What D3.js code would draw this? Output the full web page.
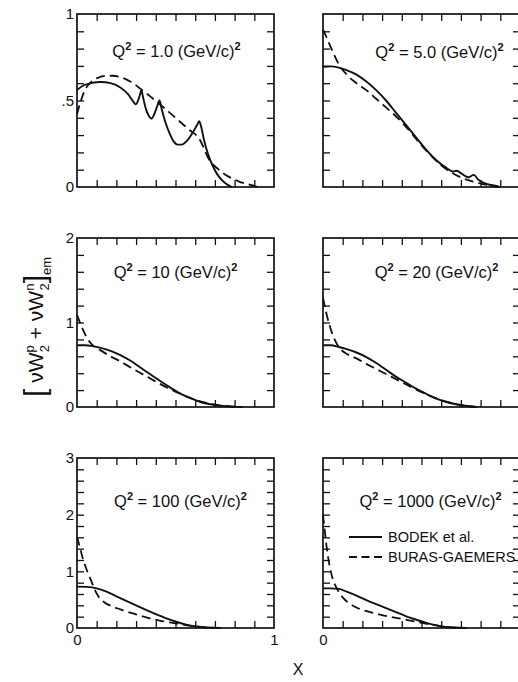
<!DOCTYPE html>
<html>
<head>
<meta charset="utf-8">
<script src="https://cdn.jsdelivr.net/npm/d3@7"></script>
<style>
  body { margin: 0; background: #fff; }
  svg { display: block; font-family: "Liberation Sans", Arial, sans-serif; }
</style>
</head>
<body>
<div id="container"></div>
<script>
"use strict";

// panel settings
const q2Values = ["1.0", "5.0", "10", "20", "100", "1000"];
const yMaxes = [1, 1, 2, 2, 3, 3];
const yTickSteps = [0.1, 0.1, 0.2, 0.2, 0.2, 0.2];
const yTickLabels = [[0, 0.5, 1], [], [0, 1, 2], [], [0, 1, 2, 3], []];
const xTickLabels = [[0, 1], [0]]; // right panel's "1" falls outside the picture
const legendLabels = ["BODEK et al.", "BURAS-GAEMERS"];

// BODEK et al. (solid), [x, value]
const bodekQ1 = [[0, .56], [.03, .585], [.07, .60], [.12, .607], [.17, .60], [.22, .575], [.26, .535],
  [.285, .495], [.298, .478], [.31, .50], [.32, .535], [.327, .56], [.335, .52], [.35, .45], [.365, .41],
  [.377, .395], [.39, .415], [.405, .46], [.419, .50], [.43, .45], [.45, .37], [.47, .31], [.49, .265],
  [.51, .245], [.53, .245], [.56, .27], [.59, .32], [.61, .36], [.62, .38], [.63, .35], [.645, .27],
  [.665, .19], [.69, .12], [.72, .06], [.75, .025], [.786, 0]];
const bodekQ5 = [[0, .695], [.04, .697], [.08, .69], [.12, .675], [.17, .65], [.22, .61], [.27, .56],
  [.32, .50], [.37, .43], [.42, .36], [.47, .29], [.52, .22], [.57, .16], [.62, .115], [.66, .09],
  [.68, .094], [.70, .08], [.74, .056], [.765, .07], [.79, .04], [.83, .018], [.88, .006], [.89, .004]];
const bodekQ10 = [[0, .73], [.04, .73], [.08, .72], [.12, .70], [.17, .665], [.22, .615], [.27, .55],
  [.32, .47], [.37, .39], [.42, .31], [.47, .235], [.52, .165], [.57, .11], [.62, .065], [.67, .035],
  [.72, .018], [.77, .008], [.84, 0]];
const bodekQ20 = [[0, .73], [.04, .73], [.08, .71], [.12, .685], [.17, .645], [.22, .59], [.27, .52],
  [.32, .44], [.37, .36], [.42, .29], [.47, .22], [.52, .16], [.57, .105], [.62, .065], [.67, .035],
  [.72, .015], [.78, 0]];
const bodekQ100 = [[0, .73], [.05, .725], [.10, .70], [.15, .64], [.20, .56], [.25, .48], [.30, .40],
  [.35, .32], [.40, .245], [.45, .175], [.50, .115], [.55, .065], [.60, .03], [.65, .012], [.73, 0]];
const bodekQ1000 = [[0, .70], [.04, .70], [.08, .69], [.12, .64], [.17, .57], [.22, .49], [.27, .42],
  [.32, .35], [.37, .28], [.42, .21], [.47, .15], [.52, .095], [.57, .05], [.62, .02], [.67, .008], [.73, 0]];

// BURAS-GAEMERS (dashed), [x, value]
const burasQ1 = [[0, .42], [.02, .50], [.04, .56], [.07, .605], [.10, .628], [.14, .642], [.18, .643],
  [.22, .635], [.27, .61], [.32, .57], [.37, .525], [.42, .478], [.47, .43], [.52, .38], [.57, .33],
  [.62, .28], [.67, .16], [.72, .10], [.77, .06], [.82, .033], [.87, .015], [.92, 0]];
const burasQ5 = [[0, .91], [.02, .86], [.05, .78], [.08, .71], [.12, .65], [.17, .60], [.22, .56],
  [.27, .51], [.30, .48], [.35, .43], [.40, .375], [.45, .31], [.50, .24], [.55, .18], [.60, .125],
  [.65, .085], [.70, .055], [.75, .035], [.80, .02], [.85, .008], [.90, 0]];
const burasQ10 = [[0, 1.09], [.02, .97], [.05, .82], [.08, .73], [.12, .67], [.17, .60], [.22, .54],
  [.27, .47], [.32, .405], [.37, .34], [.42, .275], [.47, .215], [.52, .16], [.57, .11], [.62, .07],
  [.67, .04], [.72, .02], [.78, .008], [.84, 0]];
const burasQ20 = [[0, 1.29], [.02, 1.08], [.05, .85], [.08, .71], [.12, .63], [.17, .575], [.22, .51],
  [.27, .45], [.32, .39], [.37, .33], [.42, .27], [.47, .21], [.52, .155], [.57, .105], [.62, .065],
  [.67, .035], [.72, .015], [.78, 0]];
const burasQ100 = [[0, 1.61], [.015, 1.42], [.03, 1.22], [.05, 1.02], [.07, .85], [.09, .68], [.11, .55],
  [.14, .45], [.18, .38], [.22, .33], [.27, .27], [.32, .22], [.37, .17], [.42, .13], [.47, .10],
  [.52, .07], [.57, .04], [.62, .02], [.70, 0]];
const burasQ1000 = [[0, 2.0], [.008, 1.75], [.016, 1.5], [.025, 1.27], [.035, 1.07], [.05, .86],
  [.07, .70], [.10, .54], [.14, .42], [.19, .33], [.25, .27], [.31, .22], [.37, .18], [.43, .14],
  [.49, .10], [.55, .06], [.60, .03], [.65, .01], [.70, 0]];

const bodekSeries = [bodekQ1, bodekQ5, bodekQ10, bodekQ20, bodekQ100, bodekQ1000];
const burasSeries = [burasQ1, burasQ5, burasQ10, burasQ20, burasQ100, burasQ1000];

// layout
const width = 518, height = 682;
const colX = [77, 323], panelW = 197;
const rowY = [[14, 187], [238, 407], [458, 628]];
// title centre offsets from panel centre / panel top
const titleOffsets = [[1, 43], [18, 44], [0, 40], [15, 40], [5, 49], [9, 49]];

const svg = d3.select("#container")
  .append("svg")
  .attr("width", width)
  .attr("height", height);

const line = d3.line().curve(d3.curveMonotoneX);

function noDomain(g) {
  g.select(".domain").remove();
  g.selectAll(".tick line").attr("stroke", "#111").attr("stroke-width", 1.3);
}

q2Values.forEach((q2, i) => {
  const col = i % 2, row = Math.floor(i / 2);
  const x0 = colX[col], x1 = x0 + panelW;
  const [y0, y1] = rowY[row];
  const x = d3.scaleLinear().domain([0, 1]).range([x0, x1]);
  const y = d3.scaleLinear().domain([0, yMaxes[i]]).range([y1, y0]);
  const g = svg.append("g");

  const xt = d3.range(1, 10).map((k) => k / 10);
  const nY = Math.round(yMaxes[i] / yTickSteps[i]);
  const yt = d3.range(1, nY).map((k) => k * yTickSteps[i]);

  // inward ticks on all four sides
  g.append("g").attr("transform", `translate(0,${y0})`)
    .call(d3.axisBottom(x).tickValues(xt).tickSize(7).tickFormat("")).call(noDomain);
  g.append("g").attr("transform", `translate(0,${y1})`)
    .call(d3.axisTop(x).tickValues(xt).tickSize(7).tickFormat("")).call(noDomain);
  g.append("g").attr("transform", `translate(${x0},0)`)
    .call(d3.axisRight(y).tickValues(yt).tickSize(7).tickFormat("")).call(noDomain);
  g.append("g").attr("transform", `translate(${x1},0)`)
    .call(d3.axisLeft(y).tickValues(yt).tickSize(7).tickFormat("")).call(noDomain);

  // frame
  g.append("rect")
    .attr("x", x0).attr("y", y0)
    .attr("width", x1 - x0).attr("height", y1 - y0)
    .attr("fill", "none").attr("stroke", "#111").attr("stroke-width", 1.7);

  // y labels
  if (yTickLabels[i].length) {
    g.append("g").attr("transform", `translate(${x0},0)`)
      .call(d3.axisLeft(y).tickValues(yTickLabels[i]).tickSize(0).tickPadding(3)
        .tickFormat((d) => (d === 0.5 ? ".5" : d3.format("d")(d))))
      .call((a) => a.select(".domain").remove())
      .selectAll("text")
      .attr("font-family", "Liberation Sans, Arial, sans-serif")
      .attr("font-size", 15)
      .attr("fill", "#111");
  }

  // x labels on the bottom row
  if (row === 2) {
    g.append("g").attr("transform", `translate(0,${y1})`)
      .call(d3.axisBottom(x).tickValues(xTickLabels[col]).tickSize(0).tickPadding(6)
        .tickFormat(d3.format("d")))
      .call((a) => a.select(".domain").remove())
      .selectAll("text")
      .attr("font-family", "Liberation Sans, Arial, sans-serif")
      .attr("font-size", 15)
      .attr("fill", "#111");
  }

  // curves
  g.append("path")
    .datum(bodekSeries[i].map((d) => [x(d[0]), y(d[1])]))
    .attr("d", line)
    .attr("fill", "none").attr("stroke", "#111").attr("stroke-width", 1.9);
  g.append("path")
    .datum(burasSeries[i].map((d) => [x(d[0]), y(d[1])]))
    .attr("d", line)
    .attr("fill", "none").attr("stroke", "#111").attr("stroke-width", 1.8)
    .attr("stroke-dasharray", "9,5");

  // title
  const [dxT, dyT] = titleOffsets[i];
  const t = g.append("text")
    .attr("x", (x0 + x1) / 2 + dxT).attr("y", y0 + dyT)
    .attr("text-anchor", "middle")
    .attr("font-size", 16.5).attr("fill", "#111");
  t.append("tspan").text("Q");
  t.append("tspan").attr("font-size", 11).attr("dy", -7).attr("font-weight", "bold").text("2");
  t.append("tspan").attr("dy", 7).text(" = " + q2 + " (GeV/c)");
  t.append("tspan").attr("font-size", 11).attr("dy", -7).attr("font-weight", "bold").text("2");

  // legend in the last panel
  if (i === 5) {
    const lg = g.append("g");
    legendLabels.forEach((lab, k) => {
      const ly = 537 + k * 20;
      lg.append("line")
        .attr("x1", 349).attr("x2", 382).attr("y1", ly).attr("y2", ly)
        .attr("stroke", "#111").attr("stroke-width", 1.9)
        .attr("stroke-dasharray", k === 1 ? "8,4.5" : null);
      lg.append("text")
        .attr("x", 388).attr("y", ly + 5)
        .attr("font-size", 14.5).attr("fill", "#111")
        .text(lab);
    });
  }
});

// axis title X
svg.append("text")
  .attr("x", 298).attr("y", 675)
  .attr("text-anchor", "middle")
  .attr("font-size", 16).attr("fill", "#111")
  .text("X");

// y axis title, rotated
const yl = svg.append("text")
  .attr("transform", "translate(43,327) rotate(-90)")
  .attr("text-anchor", "middle")
  .attr("font-size", 21).attr("fill", "#111");
yl.append("tspan").attr("font-size", 30).attr("dy", 2).text("[");
yl.append("tspan").attr("dy", -2).text(" \u03BDW");
yl.append("tspan").attr("font-size", 13).attr("dy", -9).text("p");
yl.append("tspan").attr("font-size", 13).attr("dx", -7).attr("dy", 15).text("2");
yl.append("tspan").attr("dy", -6).text(" + \u03BDW");
yl.append("tspan").attr("font-size", 13).attr("dy", -9).text("n");
yl.append("tspan").attr("font-size", 13).attr("dx", -7).attr("dy", 15).text("2");
yl.append("tspan").attr("font-size", 30).attr("dy", -4).text("]");
yl.append("tspan").attr("font-size", 13).attr("dy", 6).text("em");
</script>
</body>
</html>
